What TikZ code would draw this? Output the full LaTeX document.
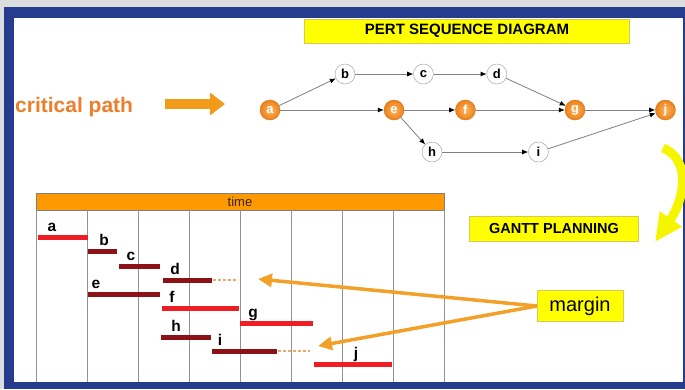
\documentclass[tikz,border=0pt]{standalone}
\usepackage{fontspec}
\setmainfont{Liberation Sans}
\usetikzlibrary{arrows.meta,positioning}

\definecolor{pagegray}{RGB}{220,221,223}
\definecolor{frameblue}{RGB}{38,60,140}
\definecolor{critorange}{RGB}{238,126,42}
\definecolor{pointerorange}{RGB}{242,155,25}
\definecolor{nodeorange}{RGB}{236,128,24}
\definecolor{nodelight}{RGB}{252,182,96}
\definecolor{headorange}{RGB}{255,153,0}
\definecolor{barred}{RGB}{238,30,36}
\definecolor{bardark}{RGB}{140,18,24}
\definecolor{slackcol}{RGB}{232,170,110}
\definecolor{margincol}{RGB}{242,160,40}
\definecolor{bannerfill}{RGB}{255,255,0}
\definecolor{turnyellow}{RGB}{245,245,0}

\tikzstyle{event} = [circle, draw=gray!80, fill=white, minimum size=20pt, inner sep=0pt, font=\fontsize{13}{13}\selectfont\bfseries]
\tikzstyle{critevent} = [event, draw=nodeorange!90!black, inner color=nodelight, outer color=nodeorange, text=white]
\tikzstyle{arrow} = [draw=gray, line width=0.8pt, -{Latex[length=6pt,width=5pt,color=black]}]
\tikzstyle{banner} = [rectangle, fill=bannerfill, draw=yellow!60!gray, inner sep=0pt]
\tikzstyle{critbar} = [barred, line width=5pt]
\tikzstyle{taskbar} = [bardark, line width=5pt]
\tikzstyle{slack} = [slackcol, line width=2pt, dash pattern=on 3pt off 2pt]
\tikzstyle{tasklabel} = [anchor=base, inner sep=0pt, font=\fontsize{15.5}{15.5}\selectfont\bfseries]
\tikzstyle{marginarrow} = [margincol, line width=3.5pt, -{Triangle[length=14pt,width=13pt]}]

\begin{document}
\begin{tikzpicture}[x=1pt, y=-1pt]
        \useasboundingbox (0,0) rectangle (685,389);
        \fill [pagegray] (0,0) rectangle (685,389);
        \fill [frameblue] (4,7) rectangle (685,389);
        \fill [white] (14,18) rectangle (683,382);

        \node (pert) [banner, minimum width=325pt, minimum height=24pt, font=\fontsize{15}{15}\selectfont\bfseries] at (467,31) {PERT SEQUENCE DIAGRAM};

        \node (crit) [anchor=base west, inner sep=0pt, text=critorange, font=\fontsize{21}{21}\selectfont\bfseries] at (15,112) {critical path};
        \coordinate (critstart) at (165,104);
        \coordinate (critend) at (225,104);
        \draw [pointerorange, line width=10pt, -{Triangle[length=15pt,width=22pt]}] (critstart) -- (critend);

        \node (a) [critevent] at (270,110) {a};
        \node (b) [event] at (345,74) {b};
        \node (c) [event, right=58pt of b] {c};
        \node (d) [event, right=53pt of c] {d};
        \node (e) [critevent] at (394,110) {e};
        \node (f) [critevent, right=51pt of e] {f};
        \node (g) [critevent] at (575,110) {g};
        \node (j) [critevent, right=70pt of g] {j};
        \node (h) [event] at (432,152) {h};
        \node (i) [event, right=86pt of h] {i};

        \draw [arrow] (a) -- (b);
        \draw [arrow] (b) -- (c);
        \draw [arrow] (c) -- (d);
        \draw [arrow] (d) -- (g);
        \draw [arrow] (a) -- (e);
        \draw [arrow] (e) -- (f);
        \draw [arrow] (f) -- (g);
        \draw [arrow] (g) -- (j);
        \draw [arrow] (e) -- (h);
        \draw [arrow] (h) -- (i);
        \draw [arrow] (i) -- (j);

        \coordinate (turnstart) at (663,148);
        \coordinate (turnend) at (655,242);
        \draw [turnyellow, line width=9pt, -{Triangle[length=28pt,width=25pt]}] (turnstart) .. controls (692,160) and (684,200) .. (turnend);

        \node (gantt) [banner, minimum width=169pt, minimum height=25pt, font=\fontsize{14.5}{14.5}\selectfont\bfseries] at (554,229) {GANTT PLANNING};

        \node (time) [rectangle, fill=headorange, draw=gray, minimum width=408pt, minimum height=17pt, inner sep=0pt, text={black!70!brown}, font=\fontsize{13}{13}\selectfont] at (240,201.5) {time};
        \foreach \k in {0,...,8}
            \draw [gray!85] (36+\k*51,210) -- (36+\k*51,382);

        \foreach \name/\xa/\xb/\y/\lx/\kind in {a/38/88/237/52/critbar, b/88/117/251/104/taskbar, c/119/160/266/131/taskbar, d/163/212/280/175/taskbar, e/88/160/294/96/taskbar, f/162/239/308/172/critbar, g/240/313/323/253/critbar, h/161/211/337/176/taskbar, i/212/277/351/220/taskbar, j/314/392/364/356/critbar} {
            \draw [\kind] (\xa,\y) -- (\xb,\y);
            \node (t\name) [tasklabel] at (\lx,\y-6) {\name};
        }
        \draw [slack] (213,280) -- (238,280);
        \draw [slack] (278,351) -- (310,351);

        \node (margin) [banner, minimum width=86pt, minimum height=31pt, font=\fontsize{20}{20}\selectfont] at (580,306) {margin};
        \coordinate (dslack) at (258,279);
        \coordinate (islack) at (318,346);
        \draw [marginarrow] (margin.west) -- (dslack);
        \draw [marginarrow] (margin.west) -- (islack);

\end{tikzpicture}
\end{document}
